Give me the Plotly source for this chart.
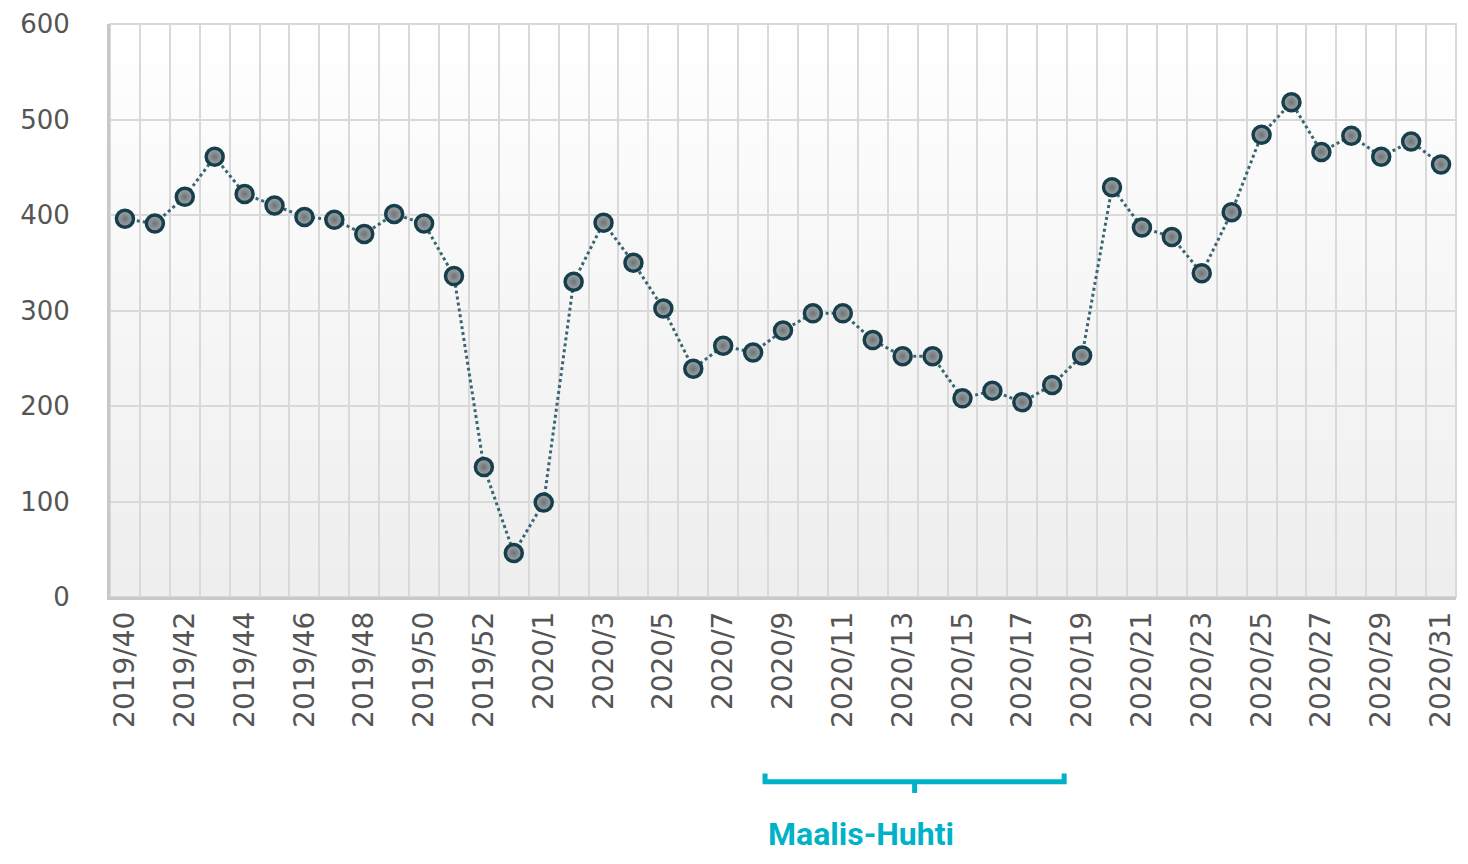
import plotly.graph_objects as go

categories = (
    [f"2019/{w}" for w in range(40, 53)]
    + ["2019/53"]
    + [f"2020/{w}" for w in range(1, 32)]
)
values = [
    396, 391, 419, 461, 422, 410, 398, 395, 380, 401, 391, 336, 136, 46,
    99, 330, 392, 350, 302, 239, 263, 256, 279, 297, 297, 269, 252, 252,
    208, 216, 204, 222, 253, 429, 387, 377, 339, 403, 484, 518, 466, 483,
    461, 477, 453,
]
y_ticks = [0, 100, 200, 300, 400, 500, 600]
bracket_label = "Maalis-Huhti"

n = len(categories)
idx = list(range(n))
label_idx = idx[::2]
label_text = categories[::2]

fig = go.Figure()

# background gradient bands (paper coords)
nb = 40
for i in range(nb):
    t = i / nb
    c = int(round(255 - 17 * (1 - t)))
    fig.add_shape(type="rect", xref="paper", yref="paper", x0=0, x1=1,
                  y0=t, y1=(i + 1) / nb + 0.002, line_width=0,
                  fillcolor=f"rgb({c},{c},{c})", layer="below")

fig.add_trace(go.Scatter(
    x=idx, y=values, mode="lines+markers",
    line=dict(color="#3a6572", width=3, dash="dot"),
    marker=dict(size=17, color="#a3a9ac",
                gradient=dict(type="radial", color="#6d7477"),
                line=dict(color="#173f4b", width=3.5)),
    hovertext=categories, xaxis="x", yaxis="y", showlegend=False,
))
# invisible trace for labels axis
fig.add_trace(go.Scatter(x=idx, y=values, mode="none", xaxis="x2", yaxis="y",
                         showlegend=False, hoverinfo="skip"))

grid_c = "#d9d9d9"
fig.update_layout(
    width=1452, height=848,
    margin=dict(l=102, r=4, t=16, b=259, autoexpand=False),
    paper_bgcolor="white", plot_bgcolor="rgba(0,0,0,0)",
    font=dict(family="DejaVu Sans, Verdana, sans-serif", color="#555555"),
    xaxis=dict(range=[-0.5, n - 0.5], tick0=0.5, dtick=1, showgrid=True,
               gridcolor=grid_c, gridwidth=2, showticklabels=False,
               zeroline=False, showline=True, linecolor="#c8c8c8",
               linewidth=3, mirror=False, automargin=False),
    xaxis2=dict(range=[-0.5, n - 0.5], overlaying="x", side="bottom",
                tickmode="array", tickvals=label_idx, ticktext=label_text,
                tickangle=-90, showgrid=False, zeroline=False,
                tickfont=dict(size=28, color="#555555"), ticks="",
                ticklabelstandoff=8, automargin=False,
                ticklabeloverflow="allow"),
    yaxis=dict(range=[0, 600], tickmode="array", tickvals=y_ticks,
               showgrid=True, gridcolor=grid_c, gridwidth=2, zeroline=False,
               showline=True, linecolor="#c8c8c8", linewidth=3,
               tickfont=dict(size=26, color="#555555"), ticks="",
               ticklabelstandoff=32, automargin=False,
               ticklabeloverflow="allow"),
)

# right / top border
fig.add_shape(type="rect", xref="paper", yref="paper", x0=0, x1=1, y0=0, y1=1,
              line=dict(color=grid_c, width=2), layer="below")

# bracket below the axis spanning 2020/9 .. 2020/18
teal = "#00b2c8"
i0, i1 = 21.4, 31.4
x0 = (i0 + 0.5) / n
x1 = (i1 + 0.5) / n
xm = (x0 + x1) / 2
yb, ye, yt = -0.3225, -0.308, -0.342
fig.add_shape(type="path", xref="paper", yref="paper",
              path=f"M {x0} {ye} L {x0} {yb} L {x1} {yb} L {x1} {ye}",
              line=dict(color=teal, width=5))
fig.add_shape(type="line", xref="paper", yref="paper", x0=xm, x1=xm,
              y0=yb, y1=yt, line=dict(color=teal, width=5))
fig.add_annotation(text=f"<b>{bracket_label}</b>", xref="paper", yref="paper",
                   x=(24.6 + 0.5) / n, y=-0.413, xanchor="center",
                   yanchor="middle", showarrow=False,
                   font=dict(family="Roboto, sans-serif", size=32, color=teal))

fig.write_html("out.html")
